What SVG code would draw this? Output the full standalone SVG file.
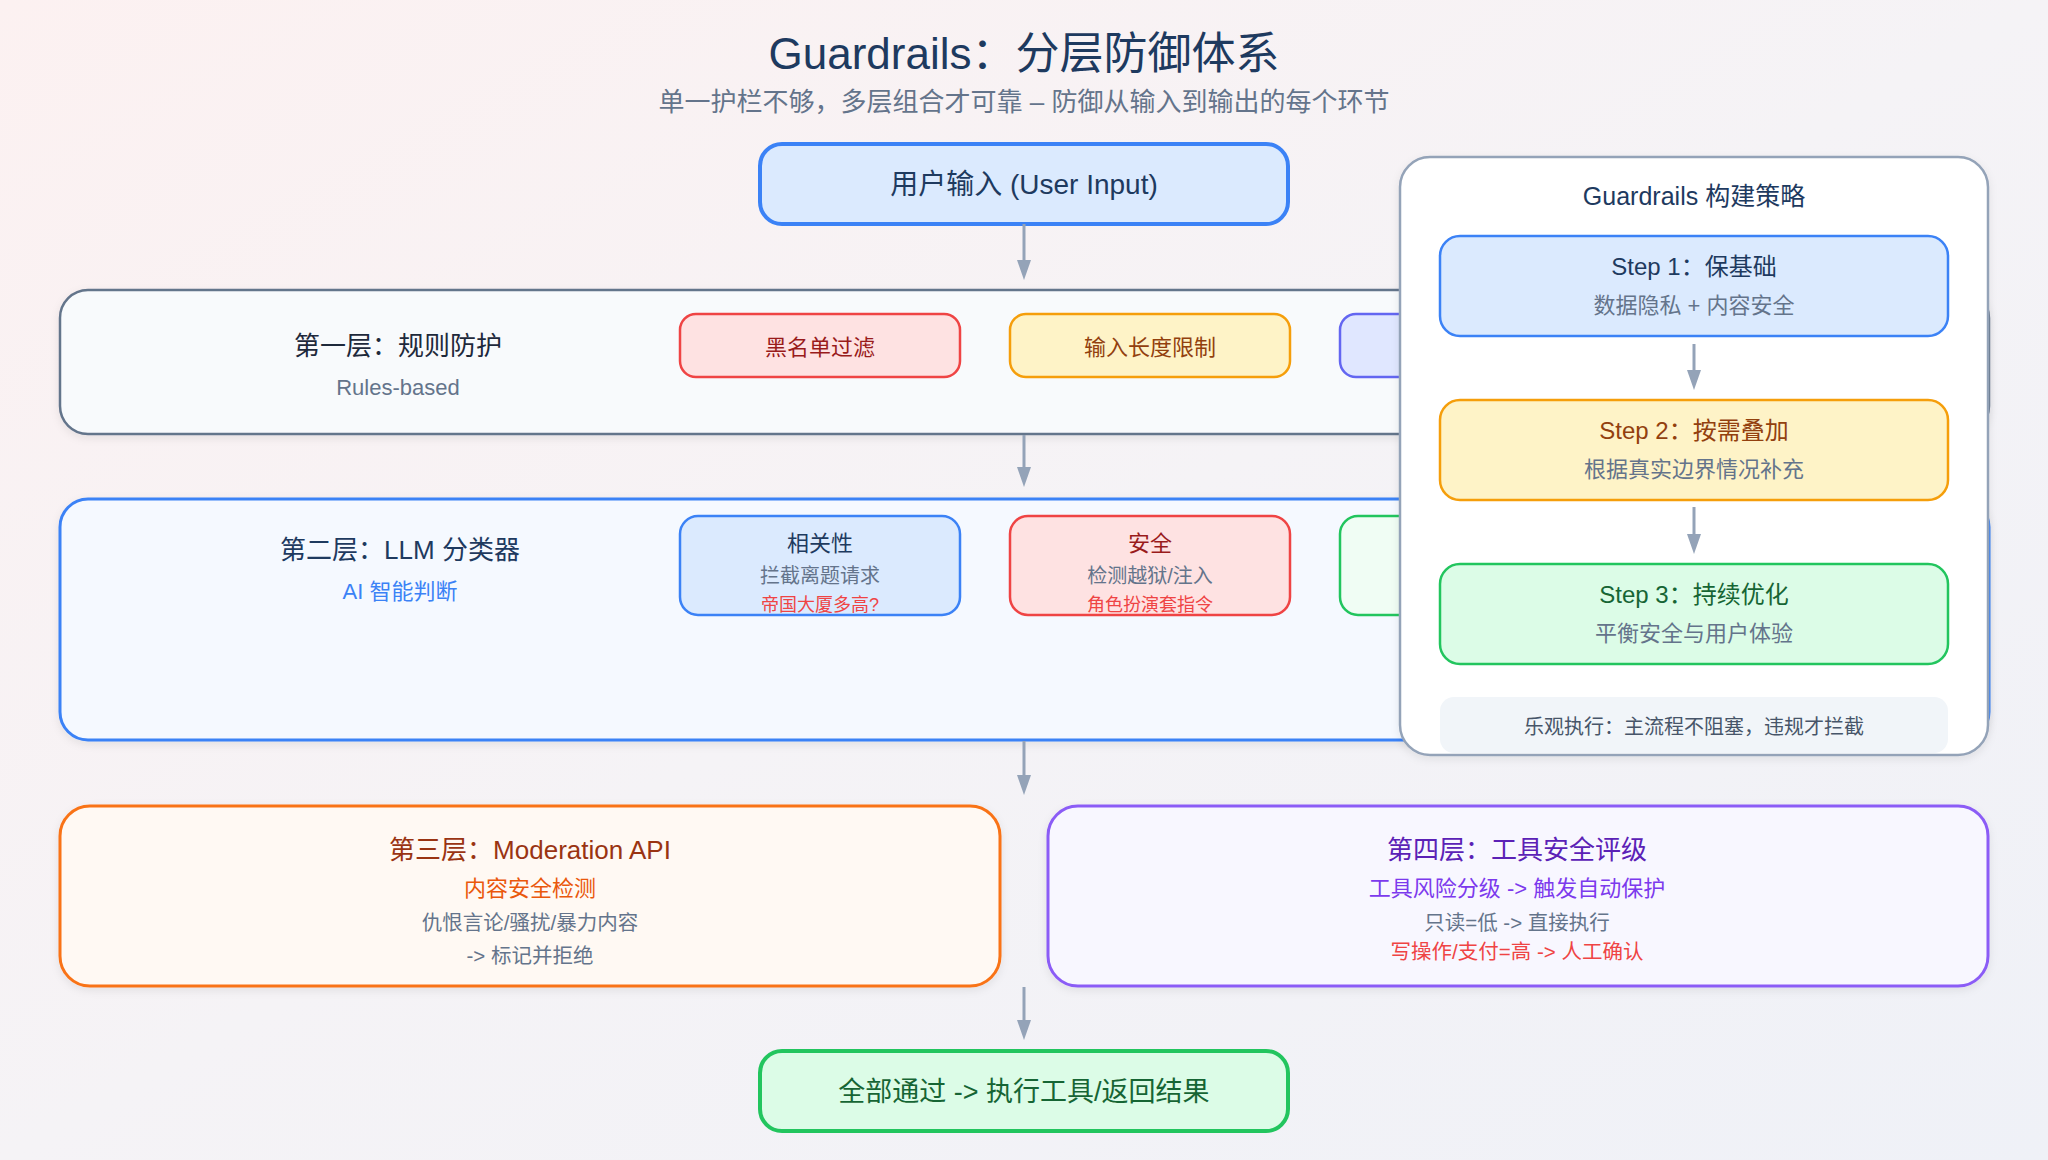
<svg xmlns="http://www.w3.org/2000/svg" width="2048" height="1160" viewBox="0 0 2048 1160">
  <defs>
    <linearGradient id="bg" x1="0" y1="0" x2="1" y2="1">
      <stop offset="0" stop-color="#fcf1f1"/>
      <stop offset="0.5" stop-color="#f5f3f6"/>
      <stop offset="1" stop-color="#eff1f7"/>
    </linearGradient>
    <filter id="shadow" x="-5%" y="-10%" width="110%" height="125%">
      <feDropShadow dx="0" dy="3" stdDeviation="4" flood-color="#0f172a" flood-opacity="0.08"/>
    </filter>
    <style>
      text { font-family: "Liberation Sans", "Noto Sans CJK SC", sans-serif; text-anchor: middle; }
      .title { font-size: 44px; fill: #1e3a5f; }
      .subtitle { font-size: 26px; fill: #64748b; }
      .conn { stroke: #94a3b8; stroke-width: 3; fill: none; }
      .head { fill: #94a3b8; }
      .layerTitle { font-size: 26px; }
      .layerSub { font-size: 22px; }
      .chipTxt { font-size: 22px; }
      .chipTitle { font-size: 22px; }
      .chipDesc { font-size: 20px; fill: #64748b; }
      .chipEx { font-size: 18px; fill: #ef4444; }
      .detail { font-size: 20.5px; }
      .stepTitle { font-size: 24px; }
      .stepDesc { font-size: 22px; fill: #64748b; }
    </style>
  </defs>

  <rect x="0" y="0" width="2048" height="1160" fill="url(#bg)"/>

  <g id="header">
    <text class="title" x="1024" y="69">Guardrails：分层防御体系</text>
    <text class="subtitle" x="1024" y="111">单一护栏不够，多层组合才可靠 – 防御从输入到输出的每个环节</text>
  </g>

  <g id="user-input">
    <rect x="760" y="144" width="528" height="80" rx="22" fill="#dbeafe" stroke="#3b82f6" stroke-width="4"/>
    <text x="1024" y="194" font-size="28" fill="#1e3a5f">用户输入 (User Input)</text>
  </g>

  <g id="layer1">
    <rect x="60" y="290" width="1929" height="144" rx="28" fill="#f8fafc" stroke="#64748b" stroke-width="2.5" filter="url(#shadow)"/>
    <text class="layerTitle" x="398" y="355" fill="#1e293b">第一层：规则防护</text>
    <text class="layerSub" x="398" y="395" fill="#64748b">Rules-based</text>
    <g id="chip-blacklist">
      <rect x="680" y="314" width="280" height="63" rx="16" fill="#fee2e2" stroke="#ef4444" stroke-width="2.5"/>
      <text class="chipTxt" x="820" y="355" fill="#991b1b">黑名单过滤</text>
    </g>
    <g id="chip-length">
      <rect x="1010" y="314" width="280" height="63" rx="16" fill="#fef3c7" stroke="#f59e0b" stroke-width="2.5"/>
      <text class="chipTxt" x="1150" y="355" fill="#92400e">输入长度限制</text>
    </g>
    <g id="chip-l1-3">
      <rect x="1340" y="314" width="280" height="63" rx="16" fill="#e0e7ff" stroke="#6366f1" stroke-width="2.5"/>
    </g>
  </g>

  <g id="layer2">
    <rect x="60" y="499" width="1929" height="241" rx="28" fill="#f5f9ff" stroke="#3b82f6" stroke-width="3" filter="url(#shadow)"/>
    <text class="layerTitle" x="400" y="559" fill="#1e3a5f">第二层：LLM 分类器</text>
    <text class="layerSub" x="400" y="599" fill="#3b82f6">AI 智能判断</text>
    <g id="chip-relevance">
      <rect x="680" y="516" width="280" height="99" rx="18" fill="#dbeafe" stroke="#3b82f6" stroke-width="2.5"/>
      <text class="chipTitle" x="820" y="551" fill="#1e3a5f">相关性</text>
      <text class="chipDesc" x="820" y="583">拦截离题请求</text>
      <text class="chipEx" x="820" y="611">帝国大厦多高?</text>
    </g>
    <g id="chip-safety">
      <rect x="1010" y="516" width="280" height="99" rx="18" fill="#fee2e2" stroke="#ef4444" stroke-width="2.5"/>
      <text class="chipTitle" x="1150" y="551" fill="#991b1b">安全</text>
      <text class="chipDesc" x="1150" y="583">检测越狱/注入</text>
      <text class="chipEx" x="1150" y="611">角色扮演套指令</text>
    </g>
    <g id="chip-l2-3">
      <rect x="1340" y="516" width="280" height="99" rx="18" fill="#f0fdf4" stroke="#22c55e" stroke-width="2.5"/>
    </g>
  </g>

  <g id="strategy-panel">
    <rect x="1400" y="157" width="588" height="598" rx="30" fill="#ffffff" stroke="#94a3b8" stroke-width="2.5" filter="url(#shadow)"/>
    <text x="1694" y="205" font-size="25" fill="#1e3a5f">Guardrails 构建策略</text>
    <g id="step1">
      <rect x="1440" y="236" width="508" height="100" rx="20" fill="#dbeafe" stroke="#3b82f6" stroke-width="2.5"/>
      <text class="stepTitle" x="1694" y="275" fill="#1e3a5f">Step 1：保基础</text>
      <text class="stepDesc" x="1694" y="313">数据隐私 + 内容安全</text>
    </g>
    <g id="step2">
      <rect x="1440" y="400" width="508" height="100" rx="20" fill="#fef3c7" stroke="#f59e0b" stroke-width="2.5"/>
      <text class="stepTitle" x="1694" y="439" fill="#92400e">Step 2：按需叠加</text>
      <text class="stepDesc" x="1694" y="477">根据真实边界情况补充</text>
    </g>
    <g id="step3">
      <rect x="1440" y="564" width="508" height="100" rx="20" fill="#dcfce7" stroke="#22c55e" stroke-width="2.5"/>
      <text class="stepTitle" x="1694" y="603" fill="#166534">Step 3：持续优化</text>
      <text class="stepDesc" x="1694" y="641">平衡安全与用户体验</text>
    </g>
    <g id="note">
      <rect x="1440" y="697" width="508" height="56" rx="14" fill="#f1f5f9"/>
      <text x="1694" y="734" font-size="20" fill="#475569">乐观执行：主流程不阻塞，违规才拦截</text>
    </g>
  </g>

  <g id="layer3">
    <rect x="60" y="806" width="940" height="180" rx="30" fill="#fff9f3" stroke="#f97316" stroke-width="3" filter="url(#shadow)"/>
    <text class="layerTitle" x="530" y="859" fill="#9a3412">第三层：Moderation API</text>
    <text x="530" y="896" font-size="22" fill="#ea580c">内容安全检测</text>
    <text class="detail" x="530" y="930" fill="#64748b">仇恨言论/骚扰/暴力内容</text>
    <text class="detail" x="530" y="963" fill="#64748b">-&gt; 标记并拒绝</text>
  </g>

  <g id="layer4">
    <rect x="1048" y="806" width="940" height="180" rx="30" fill="#f8f7ff" stroke="#8b5cf6" stroke-width="3" filter="url(#shadow)"/>
    <text class="layerTitle" x="1517" y="859" fill="#5b21b6">第四层：工具安全评级</text>
    <text x="1517" y="896" font-size="22" fill="#7c3aed">工具风险分级 -&gt; 触发自动保护</text>
    <text class="detail" x="1517" y="930" fill="#64748b">只读=低 -&gt; 直接执行</text>
    <text class="detail" x="1517" y="959" font-size="21" fill="#ef4444">写操作/支付=高 -&gt; 人工确认</text>
  </g>

  <g id="result">
    <rect x="760" y="1051" width="528" height="80" rx="22" fill="#dcfce7" stroke="#22c55e" stroke-width="4"/>
    <text x="1024" y="1101" font-size="27" fill="#166534">全部通过 -&gt; 执行工具/返回结果</text>
  </g>

  <g id="connectors">
    <line class="conn" x1="1024" y1="224" x2="1024" y2="262"/>
    <path class="head" d="M1017,260 L1031,260 L1024,280 Z"/>
    <line class="conn" x1="1024" y1="435" x2="1024" y2="469"/>
    <path class="head" d="M1017,467 L1031,467 L1024,487 Z"/>
    <line class="conn" x1="1024" y1="741" x2="1024" y2="777"/>
    <path class="head" d="M1017,775 L1031,775 L1024,795 Z"/>
    <line class="conn" x1="1024" y1="987" x2="1024" y2="1022"/>
    <path class="head" d="M1017,1020 L1031,1020 L1024,1040 Z"/>
    <line class="conn" x1="1694" y1="344" x2="1694" y2="372"/>
    <path class="head" d="M1687,370 L1701,370 L1694,390 Z"/>
    <line class="conn" x1="1694" y1="507" x2="1694" y2="536"/>
    <path class="head" d="M1687,534 L1701,534 L1694,554 Z"/>
  </g>
</svg>
